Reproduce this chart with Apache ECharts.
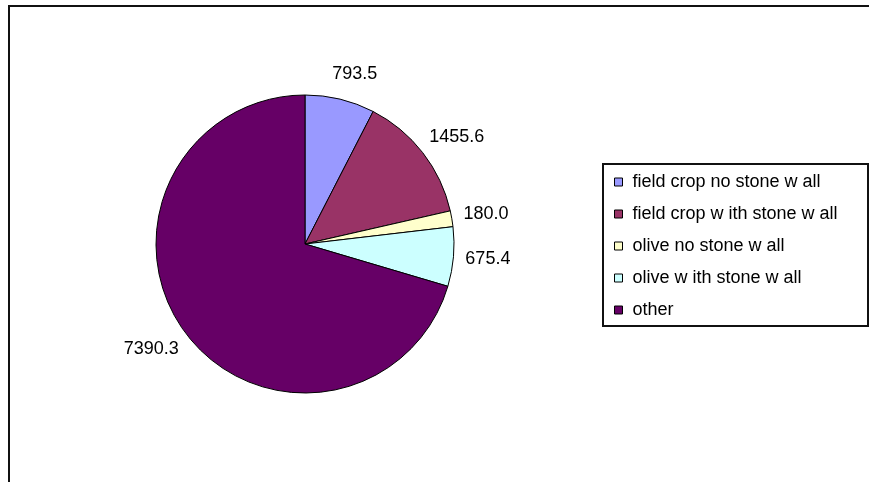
<html lang="en">
<head>
    <meta charset="UTF-8">
    <title>pie</title>
    <script type="text/javascript" src="https://cdn.jsdelivr.net/npm/echarts@6/dist/echarts.min.js"></script>
</head>
<style>
    html, body { margin: 0; padding: 0; background: #fff; }
    #container { width: 869px; height: 482px; }
</style>
<body>
<div id="container"></div>
<script>
    // data
    var categories = ['field crop no stone w all', 'field crop w ith stone w all', 'olive no stone w all', 'olive w ith stone w all', 'other'];
    var values = [793.5, 1455.6, 180.0, 675.4, 7390.3];
    var colors = ['#9999FF', '#993366', '#FFFFCC', '#CCFFFF', '#660066'];

    var chart = echarts.init(document.getElementById('container'));

    var pieData = categories.map(function (name, i) {
        return { name: name, value: values[i] };
    });

    var option = {
        animation: false,
        color: colors,
        textStyle: { fontFamily: 'Liberation Sans, Arial, sans-serif' },
        graphic: [
            {
                type: 'rect',
                shape: { x: 9, y: 6, width: 900, height: 500 },
                style: { fill: 'none', stroke: '#111', lineWidth: 2 },
                silent: true
            },
            {
                type: 'rect',
                shape: { x: 603, y: 164, width: 265, height: 162 },
                style: { fill: '#fff', stroke: '#111', lineWidth: 2 },
                silent: true,
                z: -1
            }
        ],
        legend: {
            orient: 'vertical',
            left: 609,
            top: 167,
            itemWidth: 8,
            itemHeight: 8,
            itemGap: 12,
            icon: 'rect',
            data: categories,
            textStyle: {
                color: '#000',
                fontSize: 18,
                lineHeight: 20,
                padding: [0, 0, 0, 5],
                fontFamily: 'Liberation Sans, Arial, sans-serif'
            },
            itemStyle: { borderColor: '#000', borderWidth: 1 }
        },
        series: [
            {
                type: 'pie',
                center: [305, 244],
                radius: 149,
                startAngle: 90,
                clockwise: true,
                avoidLabelOverlap: false,
                itemStyle: { borderColor: '#000', borderWidth: 1 },
                emphasis: { disabled: true },
                label: {
                    show: true,
                    position: 'outside',
                    color: '#000',
                    fontSize: 18,
                    distanceToLabelLine: -14,
                    fontFamily: 'Liberation Sans, Arial, sans-serif',
                    formatter: function (p) { return p.value.toFixed(1); }
                },
                labelLine: { show: false, length: 26, length2: 0 },
                data: pieData
            }
        ]
    };

    chart.setOption(option);
</script>
</body>
</html>
